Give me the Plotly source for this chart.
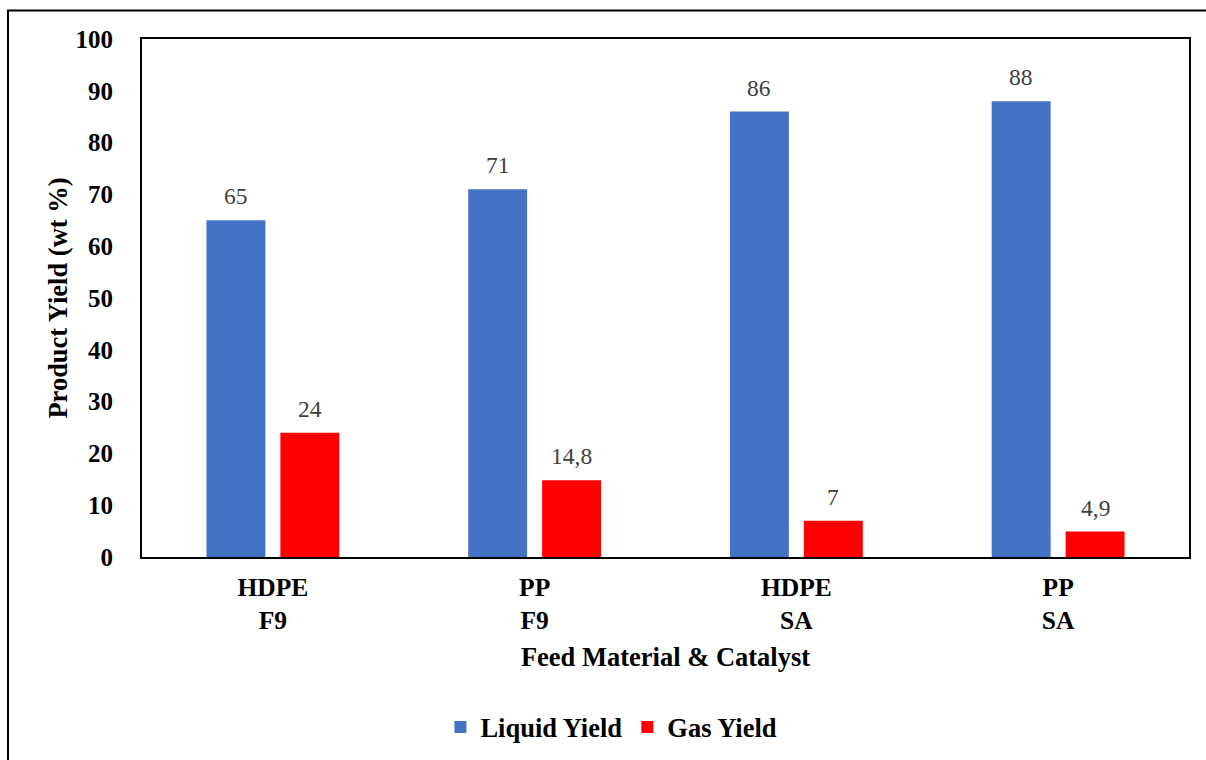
import plotly.graph_objects as go

# Feed material / catalyst combinations (two-line tick labels)
categories = ["HDPE<br>F9", "PP<br>F9", "HDPE<br>SA", "PP<br>SA"]
liquid_yield = [65, 71, 86, 88]
gas_yield = [24, 14.8, 7, 4.9]
y_ticks = [0, 10, 20, 30, 40, 50, 60, 70, 80, 90, 100]

SERIF = "'Liberation Serif', 'Times New Roman', Times, serif"
BLUE = "#4472C4"
RED = "#FF0000"


def fmt(v):
    # decimal comma, whole numbers without decimals
    if float(v).is_integer():
        return str(int(v))
    return str(v).replace(".", ",")


fig = go.Figure()
fig.add_trace(go.Bar(name="<b>Liquid Yield</b>", x=categories, y=liquid_yield,
                     marker=dict(color=BLUE, line=dict(width=0))))
fig.add_trace(go.Bar(name="<b>Gas Yield</b>", x=categories, y=gas_yield,
                     marker=dict(color=RED, line=dict(width=0))))

BARGAP = 0.435
GROUPGAP = 0.203
# centre offset of each bar within its category slot
half = (1 - BARGAP) / 4
annotations = []
for i in range(len(categories)):
    for off, vals in ((-half, liquid_yield), (half, gas_yield)):
        annotations.append(dict(
            x=i + off, y=vals[i], xref="x", yref="y",
            text=fmt(vals[i]), showarrow=False,
            yanchor="bottom", yshift=9,
            font=dict(family=SERIF, size=23.5, color="#404040"),
        ))

fig.update_layout(
    width=1206, height=760,
    margin=dict(l=142, r=17, t=39, b=203),
    paper_bgcolor="white", plot_bgcolor="white",
    barmode="group", bargap=BARGAP, bargroupgap=GROUPGAP,
    font=dict(family=SERIF, color="black"),
    annotations=annotations,
    showlegend=True,
    legend=dict(orientation="h", xref="container", x=0.507, xanchor="center",
                yref="container", y=0.043, yanchor="middle",
                font=dict(family=SERIF, size=26.5, color="black"),
                itemwidth=30, traceorder="normal"),
    shapes=[dict(type="rect", xref="paper", yref="paper",
                 x0=(8 - 142) / 1047, x1=(1215 - 142) / 1047,
                 y0=(557 - 770) / 518, y1=(557 - 10.5) / 518,
                 line=dict(color="black", width=2), layer="below")],
)

fig.update_xaxes(
    tickvals=categories, ticktext=[f"<b>{c}</b>" for c in categories],
    showline=True, linecolor="black", linewidth=2, mirror=True,
    showgrid=False, ticks="",
    tickfont=dict(family=SERIF, size=25.5, color="black"),
    ticklabelstandoff=6,
    title=dict(text="<b>Feed Material & Catalyst</b>",
               font=dict(family=SERIF, size=26.5, color="black"), standoff=14),
)
fig.update_yaxes(
    range=[0, 100], tickvals=y_ticks,
    ticktext=[f"<b>{t}</b>" for t in y_ticks],
    showline=True, linecolor="black", linewidth=2, mirror=True,
    showgrid=False, zeroline=False, ticks="",
    tickfont=dict(family=SERIF, size=25, color="black"),
    ticklabelstandoff=22,
    title=dict(text="<b>Product Yield (wt %)</b>",
               font=dict(family=SERIF, size=26.5, color="black"), standoff=0),
)

fig.write_html("out.html")
